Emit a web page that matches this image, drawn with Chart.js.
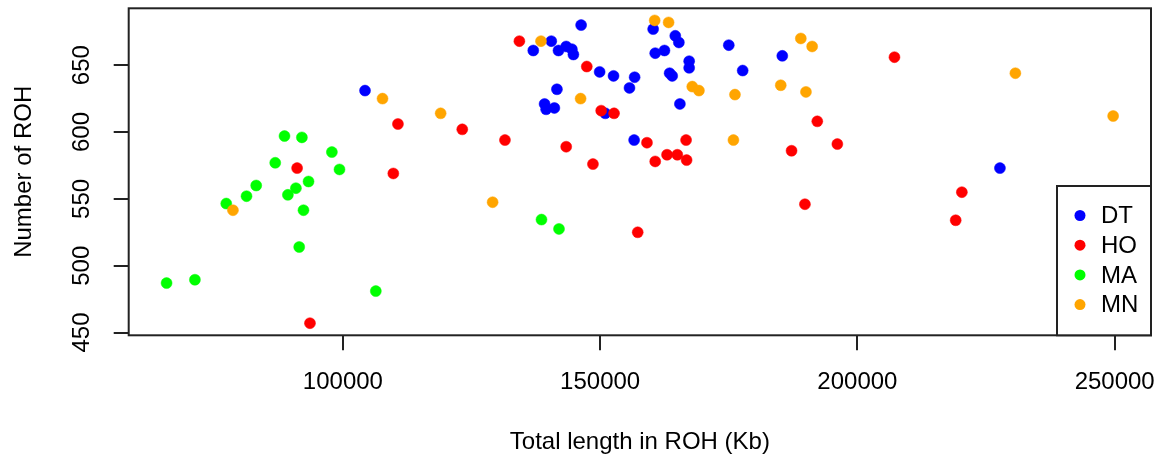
<!DOCTYPE html>
<html>
<head>
<meta charset="utf-8">
<script src="https://cdn.jsdelivr.net/npm/chart.js@4"></script>
<style>
  html, body { margin: 0; padding: 0; background: #fff; }
  #wrap { width: 1159px; height: 457px; }
</style>
</head>
<body>
<div id="wrap"><canvas id="myChart"></canvas></div>
<script>
// breeds and their colours
var groups = ['DT', 'HO', 'MA', 'MN'];
var colors = ['#0000ff', '#ff0000', '#00ff00', '#ffa500'];

// total length in ROH (Kb) and number of ROH, per animal
var dtLength = [104300, 146300, 160300, 140500, 137000, 141900, 143400, 144500, 144800, 164600, 165300,
  160700, 162500, 175000, 185400, 149900, 152600, 156700, 155700, 163500, 164000, 167300, 167300,
  177700, 141600, 139200, 139500, 141100, 165500, 151000, 156600, 227700];
var dtCount = [631, 680, 677, 668, 661, 661, 664, 662, 658, 672, 667,
  659, 661, 665, 657, 645, 642, 641, 633, 644, 642, 653, 648,
  646, 632, 621, 617, 618, 621, 614, 594, 573];

var hoLength = [110700, 91100, 109800, 93600, 134300, 147400, 150200, 152700, 123200, 131500, 143400,
  148600, 159100, 166700, 160700, 163000, 165000, 166800, 157300, 207200, 192200, 196100, 187200,
  189800, 220300, 219100];
var hoCount = [606, 573, 569, 457, 668, 649, 616, 614, 602, 594, 589,
  576, 592, 594, 578, 583, 583, 579, 525, 656, 608, 591, 586,
  546, 555, 534];

var maLength = [88650, 92030, 97860, 86850, 99340, 83150, 93320, 81270, 90870, 89310, 77330,
  92340, 91510, 65730, 71240, 106400, 138600, 142000];
var maCount = [597, 596, 585, 577, 572, 560, 563, 552, 558, 553, 546.5,
  541.5, 514, 487, 489.5, 481, 534.5, 527.5];

var mnLength = [107700, 119000, 78630, 160600, 163300, 138500, 167900, 169200, 176200, 185100, 146200,
  175900, 129100, 189000, 191200, 230700, 190000, 249700];
var mnCount = [625, 614, 541.5, 683.5, 682, 668, 634, 631, 628, 635, 625,
  594, 547.5, 670, 664, 644, 630, 612];

var xTicks = [100000, 150000, 200000, 250000];
var yTicks = [450, 500, 550, 600, 650];

var lengths = [dtLength, hoLength, maLength, mnLength];
var counts = [dtCount, hoCount, maCount, mnCount];

var FONT = '"Liberation Sans", Arial, sans-serif';
Chart.defaults.font.family = FONT;

// box, tick labels and the legend, drawn the way R does it
var rFrame = {
  id: 'rFrame',
  afterDraw: function (chart) {
    var ctx = chart.ctx, a = chart.chartArea, xs = chart.scales.x, ys = chart.scales.y;
    ctx.save();
    ctx.strokeStyle = '#222';
    ctx.lineWidth = 2;
    ctx.strokeRect(a.left, a.top, a.right - a.left, a.bottom - a.top);

    ctx.fillStyle = '#000';
    ctx.font = '24px ' + FONT;
    ctx.textAlign = 'center';
    ctx.textBaseline = 'alphabetic';
    xTicks.forEach(function (v) {
      ctx.fillText(String(v), xs.getPixelForValue(v), 389);
    });
    yTicks.forEach(function (v) {
      ctx.save();
      ctx.translate(89, ys.getPixelForValue(v));
      ctx.rotate(-Math.PI / 2);
      ctx.fillText(String(v), 0, 0);
      ctx.restore();
    });

    var lx = 1057, ly = 186;
    ctx.fillStyle = '#fff';
    ctx.fillRect(lx, ly, a.right - lx, a.bottom - ly);
    ctx.strokeRect(lx, ly, a.right - lx, a.bottom - ly);
    ctx.textAlign = 'left';
    ctx.textBaseline = 'middle';
    groups.forEach(function (g, i) {
      var cy = ly + 29.5 + i * 29.7;
      ctx.fillStyle = colors[i];
      ctx.beginPath();
      ctx.arc(1080, cy, 5.5, 0, 2 * Math.PI);
      ctx.fill();
      ctx.fillStyle = '#000';
      ctx.fillText(g, 1101, cy + 1);
    });
    ctx.restore();
  }
};

var ctx = document.getElementById('myChart').getContext('2d');
var myChart = new Chart(ctx, {
  type: 'scatter',
  data: {
    datasets: groups.map(function (g, i) {
      return {
        label: g,
        data: lengths[i].map(function (x, j) { return { x: x, y: counts[i][j] }; }),
        backgroundColor: colors[i],
        borderColor: colors[i],
        borderWidth: 0.5,
        pointRadius: 5.5,
        order: groups.length - i
      };
    })
  },
  options: {
    responsive: true,
    maintainAspectRatio: false,
    animation: false,
    layout: { padding: { left: 0, top: 8.3, right: 8, bottom: 0 } },
    plugins: {
      legend: { display: false },
      tooltip: { enabled: false }
    },
    scales: {
      x: {
        type: 'linear',
        min: 58370,
        max: 257060,
        afterBuildTicks: function (s) { s.ticks = xTicks.map(function (v) { return { value: v }; }); },
        afterFit: function (s) { s.height = 121.7; },
        grid: { drawOnChartArea: false, drawTicks: true, tickLength: 15, color: '#222', lineWidth: 2 },
        border: { display: false },
        ticks: { display: false },
        title: {
          display: true,
          text: 'Total length in ROH (Kb)',
          color: '#000',
          font: { size: 24 },
          padding: { top: 0, bottom: 0 }
        }
      },
      y: {
        min: 447.94,
        max: 692.56,
        afterBuildTicks: function (s) { s.ticks = yTicks.map(function (v) { return { value: v }; }); },
        afterFit: function (s) { s.width = 128.7; },
        grid: { drawOnChartArea: false, drawTicks: true, tickLength: 15, color: '#222', lineWidth: 2 },
        border: { display: false },
        ticks: { display: false },
        title: {
          display: true,
          text: 'Number of ROH',
          color: '#000',
          font: { size: 24 },
          padding: { top: 10, bottom: 0 }
        }
      }
    }
  },
  plugins: [rFrame]
});
</script>
</body>
</html>
